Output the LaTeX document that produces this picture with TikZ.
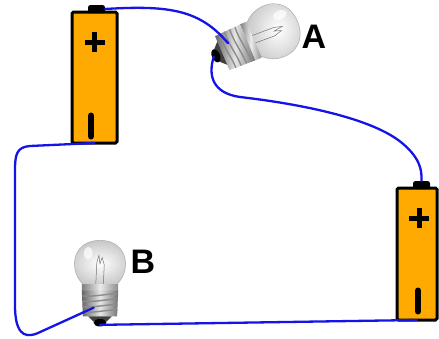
\documentclass[tikz,border=0pt]{standalone}
\usepackage{fontspec}
\setmainfont{Liberation Sans}
\usetikzlibrary{calc}

\definecolor{battfill}{RGB}{255,170,0}
\definecolor{wireblue}{RGB}{20,20,230}

\tikzset{
  battbody/.style={draw=black, line width=3, fill=battfill, rounded corners=1.5,
                   inner sep=0pt, outer sep=0pt},
  battcap/.style={fill=black, rounded corners=2.5, minimum width=17, minimum height=8,
                  inner sep=0pt, outer sep=0pt},
  signline/.style={line width=5, black},
  minusbar/.style={line width=6, black, line cap=round},
  wire/.style={wireblue, line width=2.3, line cap=round},
  lbl/.style={font=\fontsize{34}{38}\selectfont\bfseries, inner sep=0pt},
  % a small screw-base bulb, standing upright, origin at the centre of the globe
  bulb/.pic={
    % glass stem
    \fill[black!8] (-6,19) -- (-4,6) -- (4,6) -- (6,19) -- cycle;
    % glass globe
    \shade[inner color=white, outer color=black!22, draw=black!30, line width=0.6]
      (-13,19) .. controls (-30,8) and (-28,-24) .. (0,-24)
      .. controls (28,-24) and (30,8) .. (13,19) -- cycle;
    \fill[white, opacity=0.7] (-11,-12) ellipse (4 and 6);
    % lead wires and filament
    \draw[black!55, line width=0.5]
      (-4,19) -- (-3,-3) (3,19) -- (4,-1)
      (-3,-3) -- (-1,-10) -- (0,-2) -- (2,-8) -- (4,-1);
    % collar
    \shade[left color=black!50, right color=black!45, middle color=black!8]
      (-17,17) rectangle (17,23);
    % screw thread
    \shade[left color=black!60, right color=black!55, middle color=black!10]
      (-17,23) -- (-16,47) -- (16,47) -- (17,23) -- cycle;
    \foreach \t in {27,32,37,42}
      \draw[black!45, line width=1.4] (-16.5,\t+1) .. controls (-5,\t+2) and (5,\t-1) .. (16.5,\t-1);
    % insulator and contact tip
    \fill[black!75] (-11,47) -- (-6,52) -- (6,52) -- (11,47) -- cycle;
    \fill[black] (0,53) ellipse (6 and 3.5);
    \coordinate (-tip) at (0,55);
    \coordinate (-side) at (-6,39);
  }
}

\begin{document}
\begin{tikzpicture}[x=1pt, y=-1pt]
  \fill[white] (0,0) rectangle (439,338);
  \useasboundingbox (0,0) rectangle (439,338);

  % bulbs
  \pic (bA) [shift={(272,32)}, rotate=-67, scale=1.15] {bulb};
  \pic (bB) [shift={(100,266)}, scale=1.07] {bulb};

  % batteries
  \node[battbody, minimum width=45, minimum height=131] (b1) at (94.5,77.5) {};
  \node[battcap] (c1) at (96.5,9) {};
  \node[battbody, minimum width=40, minimum height=132] (b2) at (417,254) {};
  \node[battcap] (c2) at (421.5,185) {};

  % plus signs
  \draw[signline] ($(b1.center)+(-10,-35.5)$) -- +(20,0);
  \draw[signline] ($(b1.center)+(0,-45.5)$) -- +(0,20);
  \draw[signline] ($(b2.center)+(-8,-36)$) -- +(20,0);
  \draw[signline] ($(b2.center)+(2,-46)$) -- +(0,20);
  % minus bars
  \draw[minusbar] ($(b1.center)+(-3.5,38)$) -- +(0,21);
  \draw[minusbar] ($(b2.center)+(1,36.5)$) -- +(0,21);

  % wires
  \draw[wire] (c1.east) .. controls (170,5) and (200,10) .. (bA-side);
  \draw[wire] (bA-tip) .. controls (208,75) and (212,93) .. (240,97)
    .. controls (300,104) and (372,118) .. (402,143)
    .. controls (420,158) and (422,170) .. (c2.north);
  \draw[wire] (b2.south) -- (bB-tip);
  \draw[wire] (b1.south) -- (30,146) .. controls (17,147) and (15,154) .. (15,170)
    -- (15,305) .. controls (15,330) and (22,340) .. (38,333) -- (bB-side);

  % labels
  \node[lbl] (la) at (314,37) {A};
  \node[lbl] (lb) at (143,262) {B};
\end{tikzpicture}
\end{document}
